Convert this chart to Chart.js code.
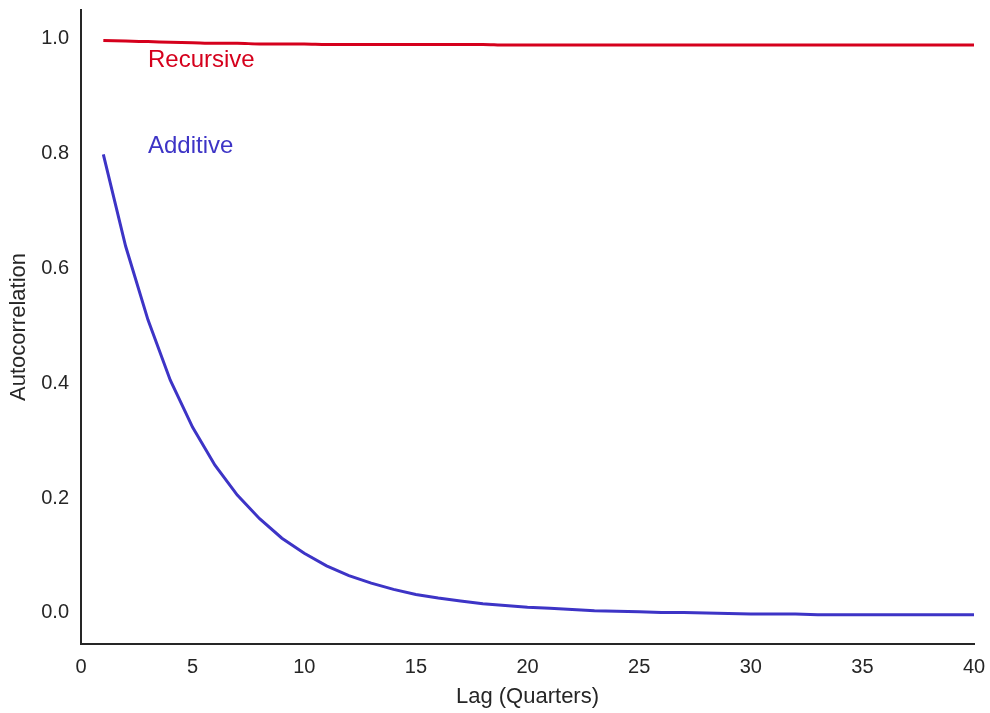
<!DOCTYPE html>
<html>
<head>
<meta charset="utf-8">
<script src="https://cdn.jsdelivr.net/npm/chart.js@4/dist/chart.umd.min.js"></script>
<style>
  html, body { margin: 0; padding: 0; background: #ffffff; }
  #c { display: block; }
</style>
</head>
<body>
<canvas id="c" width="990" height="713"></canvas>
<script>
const lags = [1,2,3,4,5,6,7,8,9,10,11,12,13,14,15,16,17,18,19,20,21,22,23,24,25,26,27,28,29,30,31,32,33,34,35,36,37,38,39,40];
const recursive = [0.996,0.995,0.994,0.993,0.992,0.991,0.991,0.990,0.990,0.990,0.989,0.989,0.989,0.989,0.989,0.989,0.989,0.989,0.988,0.988,0.988,0.988,0.988,0.988,0.988,0.988,0.988,0.988,0.988,0.988,0.988,0.988,0.988,0.988,0.988,0.988,0.988,0.988,0.988,0.988];
const additive = [0.798,0.638,0.510,0.405,0.323,0.257,0.205,0.164,0.130,0.104,0.082,0.065,0.052,0.041,0.032,0.026,0.021,0.016,0.013,0.010,0.008,0.006,0.004,0.003,0.002,0.001,0.001,0.000,-0.001,-0.002,-0.002,-0.002,-0.003,-0.003,-0.003,-0.003,-0.003,-0.003,-0.003,-0.003];
const yTicks = [0.0, 0.2, 0.4, 0.6, 0.8, 1.0];
const xTicks = [0, 5, 10, 15, 20, 25, 30, 35, 40];
const seriesLabels = [
  { text: "Recursive", x: 3, y: 0.962, color: "#d5001c" },
  { text: "Additive", x: 3, y: 0.812, color: "#3d34c6" }
];

const FONT = "'Liberation Sans', Arial, sans-serif";
const TEXT = "#262626";

const labelPlugin = {
  id: 'seriesLabels',
  afterDatasetsDraw(chart) {
    const ctx = chart.ctx;
    const xs = chart.scales.x, ys = chart.scales.y;
    ctx.save();
    ctx.font = "24px " + FONT;
    ctx.textAlign = "left";
    ctx.textBaseline = "middle";
    seriesLabels.forEach(l => {
      ctx.fillStyle = l.color;
      ctx.fillText(l.text, xs.getPixelForValue(l.x), ys.getPixelForValue(l.y));
    });
    ctx.restore();
  }
};

new Chart(document.getElementById('c'), {
  type: 'line',
  data: {
    datasets: [
      {
        label: 'Recursive',
        data: lags.map((x, i) => ({ x: x, y: recursive[i] })),
        borderColor: '#d5001c',
        borderWidth: 3,
        pointRadius: 0,
        cubicInterpolationMode: 'monotone',
        fill: false
      },
      {
        label: 'Additive',
        data: lags.map((x, i) => ({ x: x, y: additive[i] })),
        borderColor: '#3d34c6',
        borderWidth: 3,
        pointRadius: 0,
        tension: 0,
        fill: false
      }
    ]
  },
  options: {
    responsive: false,
    animation: false,
    layout: { padding: { left: 0, right: 16, top: 10, bottom: 0 } },
    plugins: {
      legend: { display: false },
      tooltip: { enabled: false }
    },
    scales: {
      x: {
        type: 'linear',
        min: 0,
        max: 40,
        afterBuildTicks: s => { s.ticks = xTicks.map(v => ({ value: v })); },
        afterFit: s => { s.height = 69; s.paddingLeft = 0; s.paddingRight = 0; },
        grid: { display: false, drawTicks: false },
        border: { display: true, color: '#262626', width: 2 },
        ticks: { color: TEXT, font: { family: FONT, size: 20 }, padding: 11, maxRotation: 0, autoSkip: false },
        title: { display: true, text: 'Lag (Quarters)', color: TEXT, font: { family: FONT, size: 22 }, padding: { top: 0, bottom: 3 } }
      },
      y: {
        type: 'linear',
        min: -0.054,
        max: 1.049,
        afterBuildTicks: s => { s.ticks = yTicks.map(v => ({ value: v })); },
        afterFit: s => { s.width = 81; s.paddingTop = 0; s.paddingBottom = 0; },
        grid: { display: false, drawTicks: false },
        border: { display: true, color: '#262626', width: 2 },
        ticks: { color: TEXT, font: { family: FONT, size: 20 }, padding: 12, callback: v => Number(v).toFixed(1) },
        title: { display: true, text: 'Autocorrelation', color: TEXT, font: { family: FONT, size: 22 }, padding: { top: 6, bottom: 0 } }
      }
    }
  },
  plugins: [labelPlugin]
});
</script>
</body>
</html>
